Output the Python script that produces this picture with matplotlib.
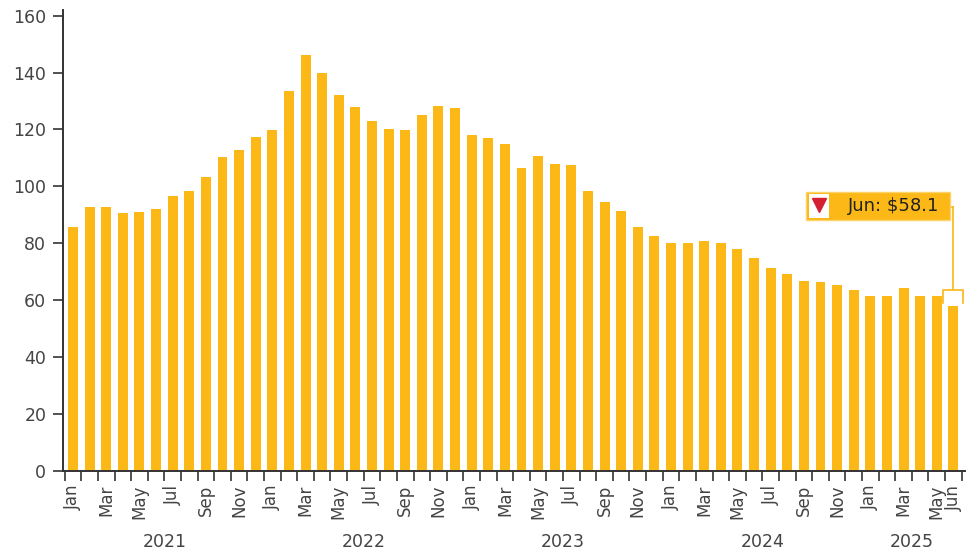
import numpy as np
import matplotlib
matplotlib.use('Agg')
from matplotlib import pyplot as plt
from matplotlib.patches import Rectangle

months = ['Jan', 'Feb', 'Mar', 'Apr', 'May', 'Jun', 'Jul', 'Aug', 'Sep', 'Oct', 'Nov', 'Dec']
years = ['2021', '2022', '2023', '2024', '2025']
months_per_year = [12, 12, 12, 12, 6]

values = [
    85.8, 92.8, 92.8, 90.7, 91.1, 92.1, 96.7, 98.5, 103.4, 110.4, 112.9, 117.4,
    119.9, 133.6, 146.3, 139.9, 132.2, 128.0, 123.1, 120.3, 119.9, 125.2, 128.3, 127.6,
    118.1, 117.1, 115.0, 106.5, 110.8, 107.9, 107.6, 98.5, 94.6, 91.4, 85.8, 82.6,
    80.2, 80.2, 80.9, 80.2, 78.1, 74.9, 71.4, 69.3, 66.8, 66.5, 65.4, 63.6,
    61.5, 61.5, 64.3, 61.5, 61.5, 58.1,
]

bar_color = '#FBB817'
text_color = '#444444'
plt.rcParams['font.family'] = ['DejaVu Sans']

labels = []
for n in months_per_year:
    labels += months[:n]
x = np.arange(len(values))

fig = plt.figure(figsize=(9.74, 5.51), dpi=100)
ax = fig.add_axes([0.0647, 0.1452, 0.9261, 0.8367])
ax.bar(x, values, width=0.6, color=bar_color, zorder=2)

ax.set_xlim(-0.6, len(values) - 0.3)
ax.set_ylim(0, 162)
ax.set_yticks(range(0, 161, 20))
ax.tick_params(axis='y', length=7, width=1.2, color='#333333', labelsize=12.5, labelcolor=text_color, pad=5)

# ticks at bar boundaries, labels every other month + last one
ax.set_xticks(np.arange(len(values) + 1) - 0.5)
ax.set_xticklabels([])
ax.tick_params(axis='x', which='major', length=7, width=1.2, color='#333333')
lab_idx = [i for i in range(len(values)) if i % 2 == 0] + [len(values) - 1]
ax.set_xticks(lab_idx, minor=True)
ax.set_xticklabels([labels[i] for i in lab_idx], minor=True, rotation=90, fontsize=12,
                   color=text_color)
ax.tick_params(axis='x', which='minor', length=0, pad=10)

for s in ['top', 'right']:
    ax.spines[s].set_visible(False)
for s in ['left', 'bottom']:
    ax.spines[s].set_color('#333333')
    ax.spines[s].set_linewidth(1.4)

# year labels
start = 0
for yr, n in zip(years, months_per_year):
    ax.text(start + (n - 1) / 2, -0.155, yr, transform=ax.get_xaxis_transform(),
            ha='center', va='center', fontsize=12.5, color=text_color)
    start += n

# callout for the last bar
li = len(values) - 1
lv = values[li]
ax.plot([li - 0.6, li - 0.6, li + 0.6, li + 0.6], [lv + 1, lv + 5.6, lv + 5.6, lv + 1],
        color=bar_color, lw=1.2, zorder=3, clip_on=False)
ax.plot([li, li], [lv + 5.6, 92.8], color=bar_color, lw=1.2, zorder=3, clip_on=False)
ax.plot([li - 0.23, li], [92.8, 92.8], color=bar_color, lw=1.2, zorder=3, clip_on=False)
ax.add_patch(Rectangle((li - 8.85, 88.3), 8.62, 9.8, facecolor=bar_color,
                       edgecolor='#FDD36A', lw=1, zorder=4, clip_on=False))
ax.add_patch(Rectangle((li - 8.72, 89.0), 1.25, 8.4, facecolor='white',
                       edgecolor='none', zorder=5, clip_on=False))
ax.plot(li - 8.1, 93.6, marker='v', markersize=9.5, color='#D42030', zorder=6, clip_on=False)
ax.text(li - 0.85, 93.1, 'Jun: $%.1f' % lv, ha='right', va='center', fontsize=13,
        color='#222222', zorder=6)

fig.savefig('out.png', dpi=100)
